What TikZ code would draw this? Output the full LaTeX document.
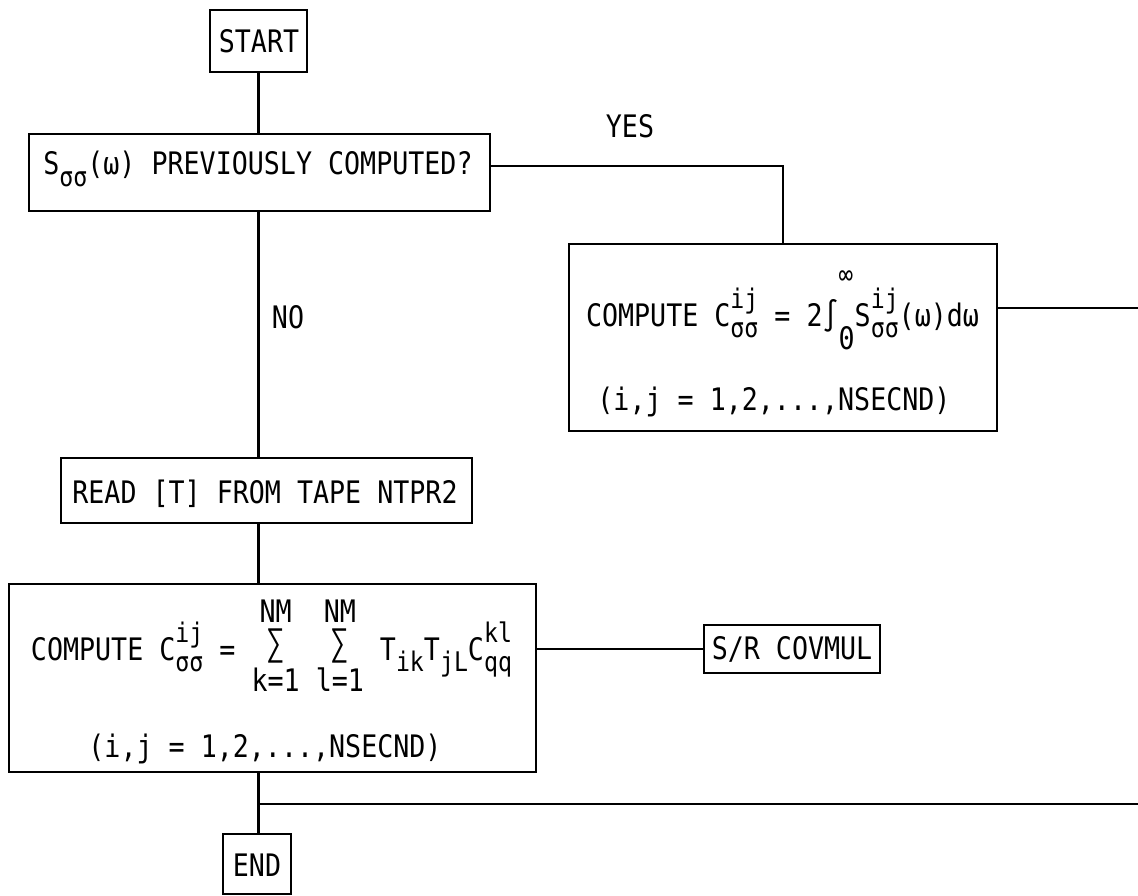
\documentclass[tikz,border=0pt]{standalone}
\usepackage{fontspec}
\newfontfamily\tw[FakeStretch=0.86]{DejaVu Sans Mono}
\newcommand\sml{\fontsize{27}{30}\selectfont}
\newcommand\Sb[1]{\raisebox{-0.36em}{\sml #1}}
\newcommand\SpSb[2]{\makebox[0pt][l]{\raisebox{0.56em}{\sml #1}}\raisebox{-0.36em}{\sml #2}}
\newcommand\BigSum{{\fontsize{36}{36}\selectfont ∑}}
\newsavebox\stkbox
\newcommand\Stk[2]{\sbox\stkbox{#2}%
  \makebox[\wd\stkbox]{\makebox[0pt]{\raisebox{1.2em}{#1}}}\hspace{-\wd\stkbox}%
  \makebox[\wd\stkbox]{\makebox[0pt]{\raisebox{0.16em}{\BigSum}}}\hspace{-\wd\stkbox}%
  \makebox[\wd\stkbox]{\makebox[0pt]{\raisebox{-1.0em}{#2}}}}
\newcommand\Lims{\makebox[0pt][l]{\raisebox{1.35em}{\fontsize{28}{30}\selectfont ∞}}\raisebox{-0.75em}{0}}
\begin{document}
\begin{tikzpicture}[x=1pt,y=-1pt,
  box/.style={draw, line width=2.6pt, inner sep=0pt},
  txt/.style={font=\tw\fontsize{31}{36}\selectfont, inner sep=0pt, anchor=base},
  wire/.style={line width=2.4pt}]
\useasboundingbox (0,0) rectangle (1138,896);
\fill[white] (0,0) rectangle (1138,896);
\coordinate (sp) at (258.5,0);
% boxes
\node[box, minimum width=97pt, minimum height=62pt] (start) at (258.5,41) {};
\node[txt] (startT) at (259,53) {START};
\node[box, minimum width=461pt, minimum height=77pt] (q) at (259.5,172.5) {};
\node[txt] (qT) at (258,175) {S\Sb{σσ}(ω) PREVIOUSLY COMPUTED?};
\node[box, minimum width=428pt, minimum height=187pt] (c1) at (783,337.5) {};
\node[txt] (c1a) at (782.5,326) {COMPUTE C\SpSb{ij}{σσ} = 2∫\Lims S\SpSb{ij}{σσ}(ω)dω};
\node[txt] (c1b) at (774,410) {(i,j = 1,2,...,NSECND)};
\node[box, minimum width=411pt, minimum height=65pt] (rd) at (266.5,490.5) {};
\node[txt] (rdT) at (265,503) {READ [T] FROM TAPE NTPR2};
\node[box, minimum width=527pt, minimum height=188pt] (c2) at (272.5,678) {};
\node[txt] (c2a) at (271.5,660) {COMPUTE C\SpSb{ij}{σσ} = \Stk{NM}{k=1} \Stk{NM}{l=1} T\Sb{ik}T\Sb{jL}C\SpSb{kl}{qq}};
\node[txt] (c2b) at (265,757) {(i,j = 1,2,...,NSECND)};
\node[box, minimum width=176pt, minimum height=48pt] (sr) at (792,649) {};
\node[txt] (srT) at (792,659) {S/R COVMUL};
\node[box, minimum width=68pt, minimum height=60pt] (end) at (257,864) {};
\node[txt] (endT) at (257,876) {END};
% labels
\node[txt] (yes) at (630,138) {YES};
\node[txt] (no) at (288,328) {NO};
% connectors
\coordinate (e1) at (1138,308);
\coordinate (e2) at (1138,804);
\draw[wire] (start.south) -- (start.south |- q.north);
\draw[wire] ([yshift=6.5pt]q.east) -| (c1.north);
\draw[wire] (sp |- q.south) -- (sp |- rd.north);
\draw[wire] (sp |- rd.south) -- (sp |- c2.north);
\draw[wire] ([yshift=29pt]c2.east) -- ([yshift=29pt]c2.east -| sr.west);
\draw[wire] (c1.east |- e1) -- (e1);
\draw[wire] (sp |- c2.south) -- (sp |- end.north);
\draw[wire] (sp |- e2) -- (e2);
\end{tikzpicture}
\end{document}
